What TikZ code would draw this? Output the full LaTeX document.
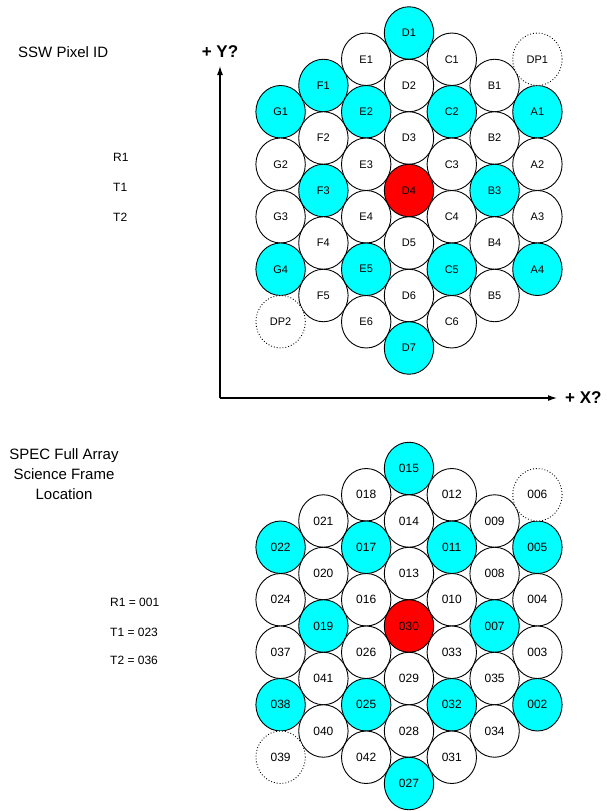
\documentclass[tikz,border=0pt]{standalone}
\usepackage{fontspec}
\setmainfont{Liberation Sans}
\usetikzlibrary{shapes.geometric,arrows.meta}
\definecolor{cyanfill}{RGB}{0,255,255}
\definecolor{redfill}{RGB}{255,0,0}
\tikzset{
  cellshape/.style={ellipse, draw=black, line width=0.9pt, minimum width=49.4pt,
    minimum height=52.5pt, inner sep=0pt},
  topcell/.style={cellshape, font=\fontsize{11}{13}\selectfont},
  botcell/.style={cellshape, font=\fontsize{12}{14}\selectfont},
  dpcell/.style={draw=black, dotted, line width=0.9pt},
  axisline/.style={line width=1.2pt, -{Latex[length=9pt,width=6pt]}},
  axislabel/.style={font=\fontsize{17}{20}\selectfont\bfseries, inner sep=0pt},
  sidelabel/.style={font=\fontsize{15}{20}\selectfont, inner sep=0pt, align=center},
  keylabel/.style={font=\fontsize{12}{14}\selectfont, inner sep=0pt, anchor=west}
}
\begin{document}
\begin{tikzpicture}[x=1pt,y=-1pt]
\path[use as bounding box, fill=white] (0,0) rectangle (606,811);

% ---------- top array (SSW pixel ID) ----------
\foreach \c/\k/\l/\f in {
  0/3/G1/cyanfill, 0/5/G2/white, 0/7/G3/white, 0/9/G4/cyanfill,
  1/2/F1/cyanfill, 1/4/F2/white, 1/6/F3/cyanfill, 1/8/F4/white, 1/10/F5/white,
  2/1/E1/white, 2/3/E2/cyanfill, 2/5/E3/white, 2/7/E4/white, 2/9/E5/cyanfill, 2/11/E6/white,
  3/0/D1/cyanfill, 3/2/D2/white, 3/4/D3/white, 3/6/D4/redfill, 3/8/D5/white, 3/10/D6/white, 3/12/D7/cyanfill,
  4/1/C1/white, 4/3/C2/cyanfill, 4/5/C3/white, 4/7/C4/white, 4/9/C5/cyanfill, 4/11/C6/white,
  5/2/B1/white, 5/4/B2/white, 5/6/B3/cyanfill, 5/8/B4/white, 5/10/B5/white,
  6/3/A1/cyanfill, 6/5/A2/white, 6/7/A3/white, 6/9/A4/cyanfill}
{
  \node[topcell, fill=\f] (t\l) at ({280.6+42.8*\c},{33+26.25*\k}) {\l};
}
\foreach \c/\k/\l in {6/1/DP1, 0/11/DP2}
{
  \node[topcell, dpcell, fill=white] (t\l) at ({280.6+42.8*\c},{33+26.25*\k}) {\l};
}

% ---------- bottom array (SPEC full array) ----------
\foreach \c/\k/\l/\f in {
  0/3/022/cyanfill, 0/5/024/white, 0/7/037/white, 0/9/038/cyanfill,
  1/2/021/white, 1/4/020/white, 1/6/019/cyanfill, 1/8/041/white, 1/10/040/white,
  2/1/018/white, 2/3/017/cyanfill, 2/5/016/white, 2/7/026/white, 2/9/025/cyanfill, 2/11/042/white,
  3/0/015/cyanfill, 3/2/014/white, 3/4/013/white, 3/6/030/redfill, 3/8/029/white, 3/10/028/white, 3/12/027/cyanfill,
  4/1/012/white, 4/3/011/cyanfill, 4/5/010/white, 4/7/033/white, 4/9/032/cyanfill, 4/11/031/white,
  5/2/009/white, 5/4/008/white, 5/6/007/cyanfill, 5/8/035/white, 5/10/034/white,
  6/3/005/cyanfill, 6/5/004/white, 6/7/003/white, 6/9/002/cyanfill}
{
  \node[botcell, fill=\f] (s\l) at ({280.6+42.8*\c},{468.5+26.25*\k}) {\l};
}
\foreach \c/\k/\l in {6/1/006, 0/11/039}
{
  \node[botcell, dpcell, fill=white] (s\l) at ({280.6+42.8*\c},{468.5+26.25*\k}) {\l};
}

% ---------- axes ----------
\coordinate (origin) at (220,398);
\coordinate (ytip) at (220,66);
\coordinate (xtip) at (557,398);
\draw[axisline] (origin) -- (ytip);
\draw[axisline] (origin) -- (xtip);
\node[axislabel] (ylab) at (220,52) {+ Y?};
\node[axislabel, anchor=west] (xlab) at (565,398) {+ X?};

% ---------- left labels ----------
\node[sidelabel, anchor=west] (sswlab) at (18,52) {SSW Pixel ID};
\node[keylabel] (r1) at (113,157) {R1};
\node[keylabel] (t1) at (113,187) {T1};
\node[keylabel] (t2) at (113,217) {T2};

\node[sidelabel] (speclab) at (64,474) {SPEC Full Array\\Science Frame\\Location};
\node[keylabel] (r1b) at (110,602) {R1 = 001};
\node[keylabel] (t1b) at (110,632) {T1 = 023};
\node[keylabel] (t2b) at (110,660) {T2 = 036};
\end{tikzpicture}
\end{document}
